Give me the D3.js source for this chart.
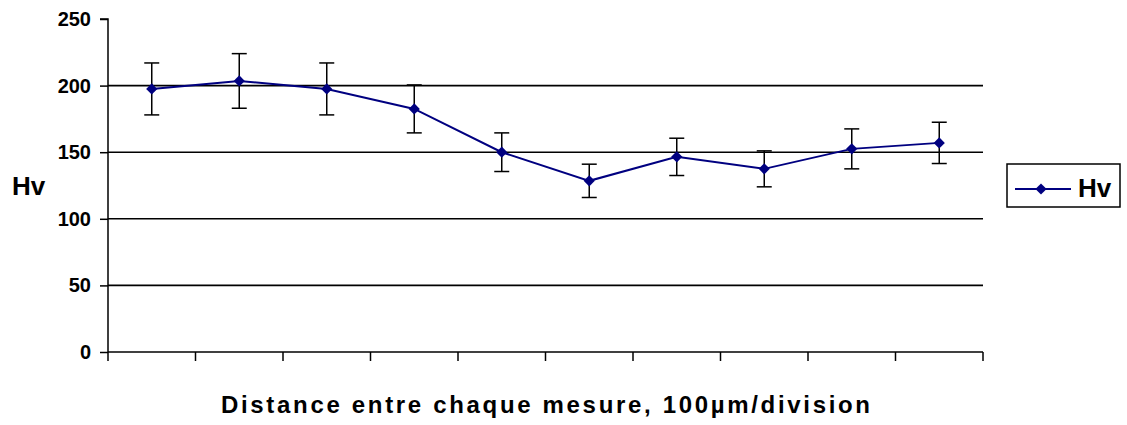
<!DOCTYPE html>
<html>
<head>
<meta charset="utf-8">
<script src="https://cdn.jsdelivr.net/npm/d3@7"></script>
<style>
  html, body { margin: 0; padding: 0; background: #fff; }
  svg { display: block; font-family: Arial, "Liberation Sans", sans-serif; }
</style>
</head>
<body>
<svg id="chart" width="1127" height="425"></svg>
<script>
// ---- data ----
const categories = ["1", "2", "3", "4", "5", "6", "7", "8", "9", "10"];
const hvValues = [197.5, 203.5, 197.5, 182.5, 150, 128.5, 146.5, 137.5, 152.5, 157];
const hvErrors = [19.5, 20.5, 19.5, 18, 14.5, 12.5, 14, 13.5, 15, 15.5];
const yTicks = [0, 50, 100, 150, 200, 250];
const seriesName = "Hv";
const yTitle = "Hv";
const xTitle = "Distance entre chaque mesure, 100µm/division";

// ---- layout ----
const svg = d3.select("#chart");
const plot = { left: 108, right: 983, top: 19, bottom: 352 };
const navy = "#000080";

const x = d3.scaleBand().domain(categories).range([plot.left, plot.right]).padding(0);
const y = d3.scaleLinear().domain([0, 250]).range([plot.bottom, plot.top]);

// gridlines
svg.append("g").selectAll("line").data(yTicks.filter(d => d > 0 && d < 250)).join("line")
  .attr("x1", plot.left).attr("x2", plot.right)
  .attr("y1", d => y(d)).attr("y2", d => y(d))
  .attr("stroke", "#000").attr("stroke-width", 1.6);

// y axis
const yAxis = d3.axisLeft(y).tickValues(yTicks).tickSize(8).tickPadding(9).tickFormat(d3.format("d"));
const gy = svg.append("g").attr("transform", `translate(${plot.left},0)`).call(yAxis);
gy.select(".domain").attr("stroke", "#000").attr("stroke-width", 1.5).attr("d", `M-8,${plot.top}H0V${plot.bottom}`);
gy.selectAll(".tick line").attr("stroke", "#000").attr("stroke-width", 1.5);
gy.selectAll(".tick text").attr("font-size", 20).attr("font-weight", "bold").attr("fill", "#000")
  .attr("font-family", "Arial, 'Liberation Sans', sans-serif");

// x axis (ticks at category boundaries)
const boundaries = categories.map(c => x(c)).concat([plot.right]);
const gx = svg.append("g");
gx.append("line").attr("x1", plot.left).attr("x2", plot.right)
  .attr("y1", plot.bottom).attr("y2", plot.bottom).attr("stroke", "#000").attr("stroke-width", 1.6);
gx.selectAll("line.t").data(boundaries).join("line").attr("class", "t")
  .attr("x1", d => d).attr("x2", d => d)
  .attr("y1", plot.bottom).attr("y2", plot.bottom + 9)
  .attr("stroke", "#000").attr("stroke-width", 1.5);

const cx = c => x(c) + x.bandwidth() / 2;

// error bars
const eb = svg.append("g");
categories.forEach((c, i) => {
  const xc = cx(c), hi = y(hvValues[i] + hvErrors[i]), lo = y(hvValues[i] - hvErrors[i]);
  eb.append("line").attr("x1", xc).attr("x2", xc).attr("y1", hi).attr("y2", lo)
    .attr("stroke", "#000").attr("stroke-width", 1.5);
  [hi, lo].forEach(yy => eb.append("line").attr("x1", xc - 7.5).attr("x2", xc + 7.5)
    .attr("y1", yy).attr("y2", yy).attr("stroke", "#000").attr("stroke-width", 1.5));
});

// line
const lineGen = d3.line().x((d, i) => cx(categories[i])).y(d => y(d));
svg.append("path").datum(hvValues).attr("d", lineGen)
  .attr("fill", "none").attr("stroke", navy).attr("stroke-width", 2);

// markers
const diamond = d3.symbol().type(d3.symbolDiamond2).size(80);
svg.append("g").selectAll("path").data(hvValues).join("path")
  .attr("d", diamond)
  .attr("transform", (d, i) => `translate(${cx(categories[i])},${y(d)})`)
  .attr("fill", navy);

// y title
svg.append("text").attr("x", 12).attr("y", 195).text(yTitle)
  .attr("font-size", 26).attr("font-weight", "bold").attr("fill", "#000");

// x title
svg.append("text").attr("x", 221).attr("y", 413).text(xTitle)
  .attr("font-size", 24).attr("font-weight", "bold").attr("fill", "#000")
  .attr("textLength", 649).attr("lengthAdjust", "spacing");

// legend
const lg = svg.append("g");
lg.append("rect").attr("x", 1007).attr("y", 164).attr("width", 113).attr("height", 43)
  .attr("fill", "#fff").attr("stroke", "#000").attr("stroke-width", 1.5);
lg.append("line").attr("x1", 1015).attr("x2", 1071).attr("y1", 189).attr("y2", 189)
  .attr("stroke", navy).attr("stroke-width", 2);
lg.append("path").attr("d", diamond).attr("transform", "translate(1041,189)").attr("fill", navy);
lg.append("text").attr("x", 1078).attr("y", 197).text(seriesName)
  .attr("font-size", 26).attr("font-weight", "bold").attr("fill", "#000");
</script>
</body>
</html>
